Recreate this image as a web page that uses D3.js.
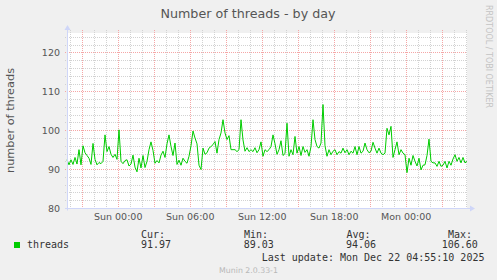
<!DOCTYPE html>
<html lang="en">
<head>
<meta charset="UTF-8">
<title>Number of threads - by day</title>
<script src="https://d3js.org/d3.v7.min.js"></script>
<style>
  body { margin: 0; background: #f0f0f0; }
  svg { display: block; }
  text { font-family: "DejaVu Sans", sans-serif; fill: #555; }
  .mono { font-family: "DejaVu Sans Mono", monospace; fill: #333; }
</style>
</head>
<body>
<svg width="497" height="280"></svg>
<script>
const threads = [
  92.4, 91.1, 92.4, 91.2, 93.0, 91.3, 95.0, 91.1, 96.0, 94.2,
  93.5, 92.8, 91.2, 96.6, 92.5, 91.1, 91.7, 91.4, 92.0, 98.8,
  94.5, 95.8, 93.8, 93.0, 93.8, 92.5, 100.1, 92.0, 91.4, 92.2,
  92.4, 90.8, 91.3, 93.6, 90.5, 89.3, 92.8, 90.3, 93.5, 90.4,
  92.0, 95.0, 97.0, 94.8, 91.5, 92.2, 91.6, 93.6, 94.6, 93.0,
  96.5, 98.8, 95.8, 93.5, 96.7, 91.2, 92.3, 91.0, 92.8, 92.0,
  91.5, 93.3, 96.0, 99.8, 98.0, 96.5, 91.0, 89.9, 95.4, 93.8,
  94.2, 95.4, 95.8, 96.3, 97.1, 94.1, 97.6, 99.3, 102.7, 99.3,
  97.6, 98.6, 95.0, 95.0, 95.0, 94.5, 95.0, 102.7, 97.5, 94.6,
  95.5, 94.5, 95.0, 94.5, 95.5, 94.2, 95.0, 97.0, 93.3, 95.0,
  94.5, 95.0, 95.8, 98.8, 96.5, 93.8, 95.0, 97.3, 93.5, 94.0,
  101.8, 93.3, 95.0, 93.7, 98.4, 94.1, 95.8, 93.5, 95.8, 94.3,
  95.0, 93.3, 95.8, 102.7, 97.6, 95.8, 95.4, 96.7, 106.6, 96.0,
  93.3, 95.0, 93.7, 94.6, 95.0, 93.7, 94.5, 94.1, 95.4, 94.2,
  95.0, 93.7, 94.6, 94.1, 95.8, 93.7, 95.8, 94.1, 94.6, 96.7,
  95.0, 94.2, 94.6, 96.9, 95.4, 94.1, 95.4, 94.1, 93.7, 94.1,
  100.5, 98.8, 101.0, 93.0, 95.0, 97.0, 93.7, 95.0, 94.1, 93.7,
  89.1, 92.8, 91.0, 93.5, 92.0, 90.8, 92.8, 89.8, 91.0, 91.1,
  93.5, 97.7, 92.0, 91.6, 91.6, 90.7, 92.0, 90.7, 91.0, 92.0,
  90.3, 92.0, 91.0, 92.6, 93.7, 92.0, 93.0, 91.6, 93.0, 91.6,
  92.0
];
const timeStart = new Date(2025, 11, 20, 19, 44);
const timeEnd = new Date(2025, 11, 22, 5, 4);
const sampleMinutes = 10;
const yDomain = [80, 125];
const yTicks = [80, 90, 100, 110, 120];
const seriesName = "threads";
const statLabels = ["Cur:", "Min:", "Avg:", "Max:"];
const statValues = ["91.97", "89.03", "94.06", "106.60"];
const lastUpdate = "Last update: Mon Dec 22 04:55:10 2025";

const svg = d3.select("svg");
const margin = { left: 67, top: 33, right: 30, bottom: 72 };
const W = 497, H = 280;
const x = d3.scaleTime().domain([timeStart, timeEnd]).range([margin.left, W - margin.right]);
const y = d3.scaleLinear().domain(yDomain).range([H - margin.bottom, margin.top]);
const px = v => Math.round(v) + 0.5;

// canvas
svg.append("rect")
   .attr("x", margin.left).attr("y", margin.top)
   .attr("width", W - margin.left - margin.right)
   .attr("height", H - margin.top - margin.bottom)
   .attr("fill", "#fff");

const grid = svg.append("g").attr("fill", "none").attr("stroke-dasharray", "1,1");
const minorColor = "#d2d2d2", majorColor = "#f5a6a6";

// minor grid: every hour / every 2 threads
grid.selectAll(".vmin")
    .data(x.ticks(d3.timeHour.every(1)).filter(d => d.getHours() % 3 !== 0))
    .join("line")
    .attr("x1", d => px(x(d))).attr("x2", d => px(x(d)))
    .attr("y1", margin.top - 3).attr("y2", H - margin.bottom)
    .attr("stroke", minorColor);
grid.selectAll(".hmin")
    .data(d3.range(82, yDomain[1], 2).filter(d => d % 10 !== 0))
    .join("line")
    .attr("x1", margin.left - 2).attr("x2", W - margin.right)
    .attr("y1", d => px(y(d))).attr("y2", d => px(y(d)))
    .attr("stroke", minorColor);

// major grid: every 3 hours / every 10 threads
grid.selectAll(".vmaj")
    .data(x.ticks(d3.timeHour.every(3)))
    .join("line")
    .attr("x1", d => px(x(d))).attr("x2", d => px(x(d)))
    .attr("y1", margin.top - 3).attr("y2", H - margin.bottom)
    .attr("stroke", majorColor);
grid.selectAll(".hmaj")
    .data(yTicks.slice(1))
    .join("line")
    .attr("x1", margin.left - 2).attr("x2", W - margin.right)
    .attr("y1", d => px(y(d))).attr("y2", d => px(y(d)))
    .attr("stroke", majorColor);

// series line
const line = d3.line()
    .x((d, i) => x(d3.timeMinute.offset(timeStart, i * sampleMinutes)))
    .y(d => y(d));
svg.append("path")
   .datum(threads)
   .attr("fill", "none")
   .attr("stroke", "#00cc00")
   .attr("stroke-width", 1)
   .attr("d", line);

// axes with arrows
const axisColor = "#cfd6f8";
const x0 = px(margin.left), yb = px(H - margin.bottom);
svg.append("line").attr("x1", x0).attr("x2", x0).attr("y1", yb + 2).attr("y2", margin.top - 4)
   .attr("stroke", axisColor);
svg.append("path").attr("d", `M${x0 - 3},${margin.top - 3}L${x0},${margin.top - 8}L${x0 + 3},${margin.top - 3}Z`)
   .attr("fill", axisColor);
svg.append("line").attr("x1", margin.left - 2).attr("x2", W - margin.right + 4).attr("y1", yb).attr("y2", yb)
   .attr("stroke", axisColor);
svg.append("path").attr("d", `M${W - margin.right + 3},${yb - 3}L${W - margin.right + 8},${yb}L${W - margin.right + 3},${yb + 3}Z`)
   .attr("fill", axisColor);

// tick labels
svg.append("g").selectAll("text")
   .data(x.ticks(d3.timeHour.every(6)))
   .join("text")
   .attr("x", d => x(d)).attr("y", H - margin.bottom + 12)
   .attr("text-anchor", "middle")
   .style("font-size", "9.5px")
   .text(d3.timeFormat("%a %H:%M"));
svg.append("g").selectAll("text")
   .data(yTicks)
   .join("text")
   .attr("x", margin.left - 7).attr("y", d => y(d) + 3.5)
   .attr("text-anchor", "end")
   .style("font-size", "9.5px")
   .text(d => d);

// titles
svg.append("text")
   .attr("x", 248).attr("y", 18)
   .attr("text-anchor", "middle")
   .style("font-size", "12.7px")
   .text("Number of threads - by day");
svg.append("text")
   .attr("transform", `translate(14,${(margin.top + H - margin.bottom) / 2}) rotate(-90)`)
   .attr("text-anchor", "middle")
   .style("font-size", "11.3px")
   .text("number of threads");
svg.append("text")
   .attr("transform", "translate(486,5) rotate(90)")
   .style("font-size", "8px")
   .style("fill", "#c4c4c4")
   .text("RRDTOOL / TOBI OETIKER");

// legend
svg.append("rect").attr("x", 14).attr("y", 242).attr("width", 6).attr("height", 6).attr("fill", "#00cc00");
svg.append("text").attr("class", "mono").attr("x", 27).attr("y", 248).style("font-size", "10px").text(seriesName);
const colX = [141, 244, 346.5, 448];
const valX = [141, 243.7, 346, 441.7];
statLabels.forEach((s, i) => {
  svg.append("text").attr("class", "mono").attr("x", colX[i]).attr("y", 237.5)
     .style("font-size", "10px").text(s);
  svg.append("text").attr("class", "mono").attr("x", valX[i]).attr("y", 248.3)
     .style("font-size", "10px").text(statValues[i]);
});
svg.append("text").attr("class", "mono").attr("x", 261.7).attr("y", 260.7)
   .style("font-size", "10px").text(lastUpdate);
svg.append("text")
   .attr("x", 248.5).attr("y", 272.5)
   .attr("text-anchor", "middle")
   .style("font-size", "7.8px")
   .style("fill", "#b8b8b8")
   .text("Munin 2.0.33-1");
</script>
</body>
</html>
